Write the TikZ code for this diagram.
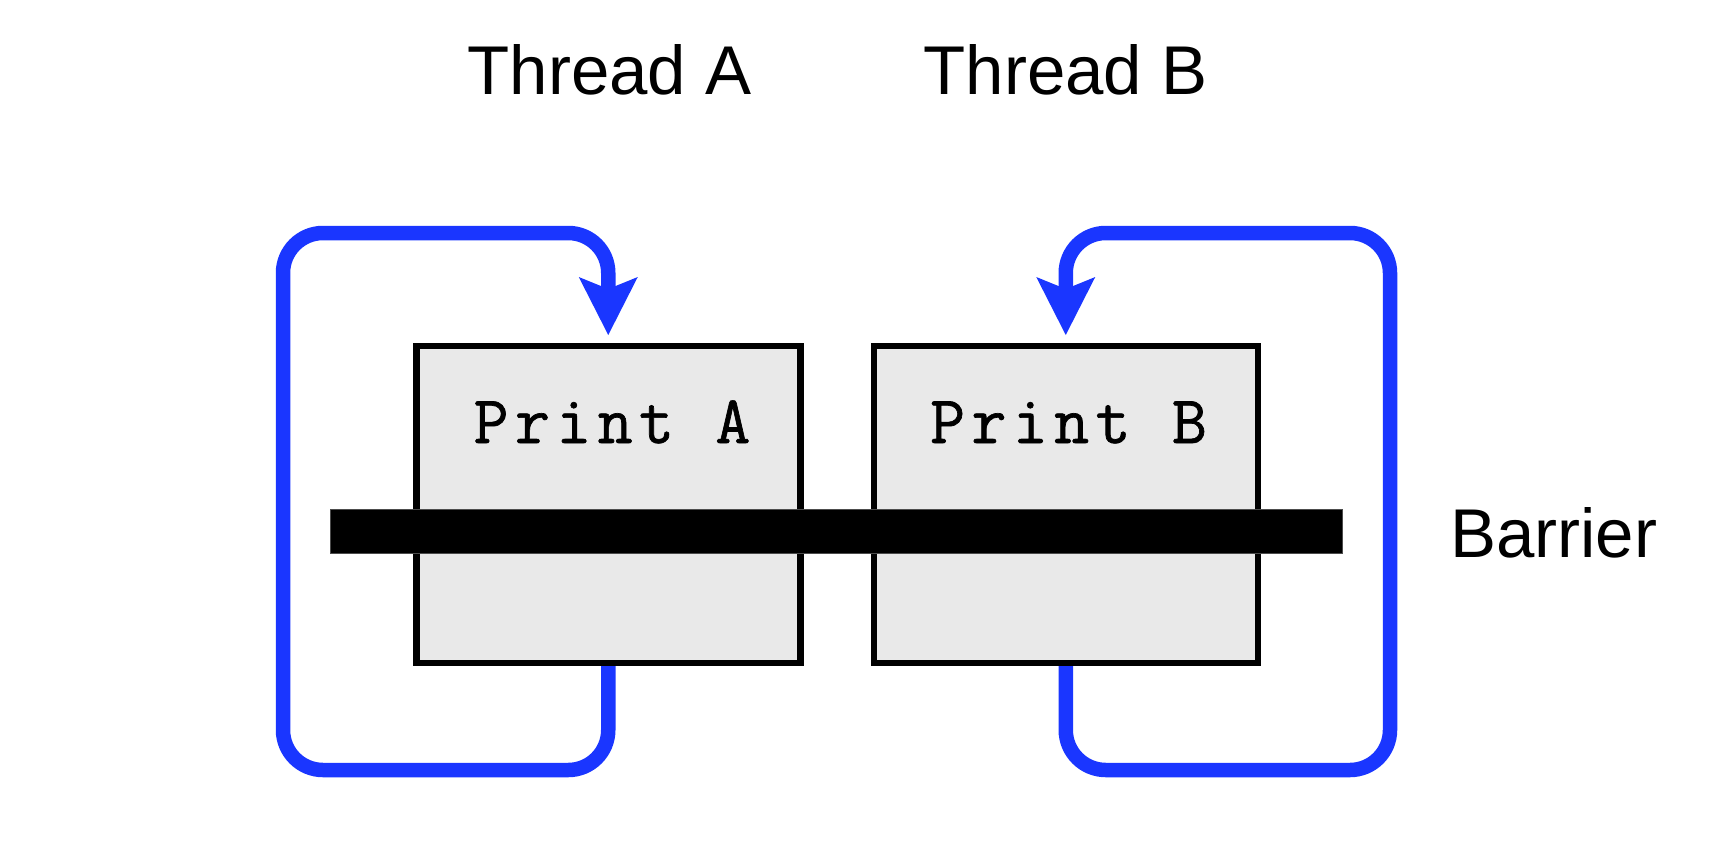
\documentclass[tikz,border=0pt]{standalone}
\usepackage{fontspec}
\setmainfont{Liberation Sans}
\newfontfamily\monofont[LetterSpace=9.3,FakeBold=1]{Latin Modern Mono}
\usetikzlibrary{arrows.meta,calc}
\definecolor{loopblue}{RGB}{26,54,255}
\definecolor{boxgray}{RGB}{233,233,233}
\begin{document}
\begin{tikzpicture}[x=1pt,y=-1pt,
  sanslbl/.style={inner sep=0pt,font=\fontsize{69}{80}\selectfont},
  monolbl/.style={inner sep=0pt,font=\monofont\fontsize{68}{80}\selectfont},
  printbox/.style={draw=black,line width=6.5pt,fill=boxgray,minimum width=384pt,minimum height=317pt,inner sep=0pt},
  barbar/.style={fill=black,draw=black!70,line width=0.8pt,minimum width=1012pt,minimum height=44pt,inner sep=0pt},
  looparrow/.style={draw=loopblue,line width=14.5pt,rounded corners=40pt,
    -{Stealth[length=58pt,width=59pt,inset=12pt,line width=0pt]}}
]
\useasboundingbox (0,0) rectangle (1724,852);
% anchors for the loops
\coordinate (la) at (283,770);
\coordinate (lat) at (283,233);
\coordinate (lb) at (1390,770);
\coordinate (lbt) at (1390,233);
\path (608.25,504.5) coordinate (cA);
\path (1065.75,504.5) coordinate (cB);
% loops
\draw[looparrow] (cA |- 663,663) -- (cA |- la) -- (la) -- (lat) -- (cA |- lat) -- (608.25,335);
\draw[looparrow] (cB |- 663,663) -- (cB |- lb) -- (lb) -- (lbt) -- (cB |- lbt) -- (1065.75,335);
% boxes
\node[printbox] (boxA) at (cA) {};
\node[printbox] (boxB) at (cB) {};
\node[monolbl,anchor=base] (printA) at (612,443) {Print A};
\node[monolbl,anchor=base] (printB) at (1068.5,443) {Print B};
% barrier
\node[barbar] (barrier) at (836,531) {};
\node[sanslbl,anchor=base west] (barrierlbl) at (1450,557) {Barrier};
% thread titles
\node[sanslbl,anchor=base] (threadA) at (609.5,94) {Thread A};
\node[sanslbl,anchor=base] (threadB) at (1065.5,94) {Thread B};
\end{tikzpicture}
\end{document}
